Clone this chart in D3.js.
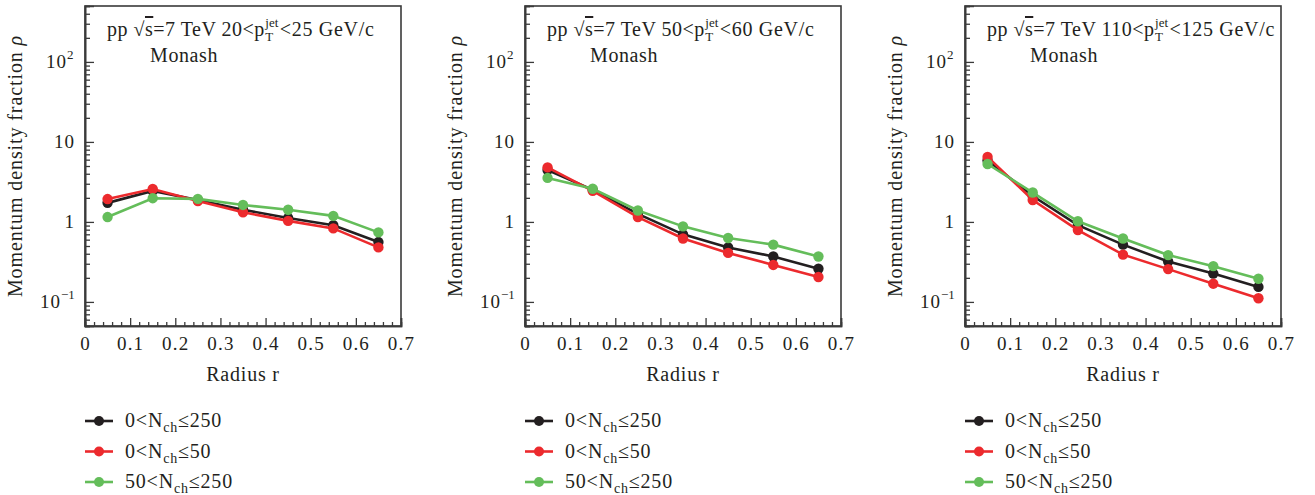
<!DOCTYPE html>
<html>
<head>
<meta charset="utf-8">
<script src="https://cdn.jsdelivr.net/npm/d3@7"></script>
<style>
  body { margin: 0; background: #fff; }
  svg { font-family: "Liberation Serif", "DejaVu Serif", serif; }
</style>
</head>
<body>
<div id="chart"></div>
<script>
// radius bins (bin centres)
const radius = [0.05, 0.15, 0.25, 0.35, 0.45, 0.55, 0.65];

// pT bins, one per panel
const ptBins = [["20", "25"], ["50", "60"], ["110", "125"]];

// multiplicity classes
const seriesNames = ["0<N≤250", "0<N≤50", "50<N≤250"];
const seriesLo = ["0", "0", "50"];
const seriesHi = ["250", "50", "250"];
const seriesColors = ["#231f20", "#ec2a2d", "#64bd5a"];

// momentum density fraction, panel 1 (20-25 GeV/c)
const p1_all = [1.73, 2.44, 1.88, 1.42, 1.12, 0.91, 0.56];
const p1_low = [1.93, 2.58, 1.82, 1.32, 1.03, 0.83, 0.48];
const p1_high = [1.15, 1.98, 1.94, 1.63, 1.42, 1.19, 0.74];

// panel 2 (50-60 GeV/c)
const p2_all = [4.45, 2.52, 1.26, 0.70, 0.48, 0.37, 0.26];
const p2_low = [4.8, 2.45, 1.15, 0.62, 0.41, 0.29, 0.205];
const p2_high = [3.55, 2.6, 1.39, 0.88, 0.63, 0.52, 0.37];

// panel 3 (110-125 GeV/c)
const p3_all = [5.85, 2.11, 0.91, 0.52, 0.32, 0.226, 0.154];
const p3_low = [6.5, 1.88, 0.79, 0.39, 0.257, 0.169, 0.111];
const p3_high = [5.3, 2.33, 1.02, 0.62, 0.385, 0.28, 0.195];

const panelData = [[p1_all, p1_low, p1_high], [p2_all, p2_low, p2_high], [p3_all, p3_low, p3_high]];

const xTicks = [0, 0.1, 0.2, 0.3, 0.4, 0.5, 0.6, 0.7];
const yTicks = [0.1, 1, 10, 100];

const width = 1315, height = 495;
const plotW = 316, plotH = 320;
const plotTop = 6;
const panelLeft = [85, 525, 965];
const ink = "#231f20";

const svg = d3.select("#chart").append("svg")
  .attr("width", width).attr("height", height);

const x = d3.scaleLinear().domain([0, 0.7]).range([0, plotW]);
const y = d3.scaleLog().domain([0.05, 500]).range([plotH, 0]);

// minor ticks on the log axis: 2..9 of every decade inside the domain
const yMinor = [];
[0.01, 0.1, 1, 10, 100].forEach(d => {
  for (let k = 2; k <= 9; k++) {
    const v = d * k;
    if (v >= 0.05 && v <= 500) yMinor.push(v);
  }
});
const xMinor = d3.range(0, 36).map(i => i * 0.02).filter(v => Math.abs(v * 10 - Math.round(v * 10)) > 1e-6);

const supMap = {"-1": "−1", "2": "2"};

function yLabel(d) {
  const e = Math.round(Math.log10(d));
  if (e === 0) return ["1", null];
  if (e === 1) return ["10", null];
  return ["10", supMap[String(e)]];
}

panelData.forEach((rows, pi) => {
  const g = svg.append("g").attr("transform", `translate(${panelLeft[pi]},${plotTop})`);

  // frame
  g.append("rect")
    .attr("width", plotW).attr("height", plotH)
    .attr("fill", "none").attr("stroke", "#3a3a3a").attr("stroke-width", 1.6);

  // x axis, ticks pointing inward
  const xAxis = g.append("g").attr("transform", `translate(0,${plotH})`)
    .call(d3.axisBottom(x).tickValues(xTicks).tickSize(-8).tickPadding(11)
      .tickFormat(d => d === 0 ? "0" : d3.format(".1f")(d)));
  g.append("g").attr("transform", `translate(0,${plotH})`)
    .call(d3.axisBottom(x).tickValues(xMinor).tickSize(-4).tickFormat(""));

  // y axis
  g.append("g")
    .call(d3.axisLeft(y).tickValues(yTicks).tickSize(-9).tickPadding(9).tickFormat(""));
  g.append("g")
    .call(d3.axisLeft(y).tickValues(yMinor).tickSize(-5).tickFormat(""));

  g.selectAll(".domain").attr("stroke", "#3a3a3a").attr("stroke-width", 1.6);
  g.selectAll(".tick line").attr("stroke", "#3a3a3a").attr("stroke-width", 1.3);

  xAxis.selectAll("text").attr("font-size", 19).attr("fill", ink)
    .attr("letter-spacing", 1.2)
    .attr("font-family", "Liberation Serif, serif");

  // y tick labels with exponents
  yTicks.forEach(d => {
    const [base, sup] = yLabel(d);
    const off = sup ? (sup.length > 1 ? 14 : 8) : 0;
    g.append("text")
      .attr("x", -10 - off)
      .attr("y", y(d) + 6)
      .attr("text-anchor", "end")
      .attr("font-size", 19).attr("letter-spacing", 1).attr("fill", ink)
      .text(base);
    if (sup) {
      g.append("text")
        .attr("x", -10 - off)
        .attr("y", y(d) - 3)
        .attr("font-size", 13).attr("fill", ink)
        .text(sup);
    }
  });

  // axis titles
  g.append("text")
    .attr("x", plotW / 2).attr("y", plotH + 55)
    .attr("text-anchor", "middle").attr("font-size", 20).attr("letter-spacing", 0.8)
    .attr("fill", ink)
    .text("Radius r");

  const yt = g.append("text")
    .attr("transform", `translate(${-63},${plotH / 2}) rotate(-90)`)
    .attr("text-anchor", "middle").attr("font-size", 20).attr("letter-spacing", 0.9)
    .attr("fill", ink);
  yt.append("tspan").text("Momentum density fraction ");
  yt.append("tspan").attr("font-style", "italic").text("ρ");

  // title: pp √s=7 TeV lo<p_T^jet<hi GeV/c
  const tx = 22, ty = 30;
  const t1 = g.append("text").attr("x", tx).attr("y", ty)
    .attr("font-size", 20).attr("letter-spacing", 0.5).attr("fill", ink);
  t1.append("tspan").text("pp √");
  t1.append("tspan").style("text-decoration", "overline").text("s");
  t1.append("tspan").text(`=7 TeV ${ptBins[pi][0]}<p`);
  const w1 = t1.node().getComputedTextLength();
  g.append("text").attr("x", tx + w1 + 0.5).attr("y", ty - 9)
    .attr("font-size", 13).attr("fill", ink).text("jet");
  g.append("text").attr("x", tx + w1 + 0.5).attr("y", ty + 5)
    .attr("font-size", 13).attr("fill", ink).text("T");
  g.append("text").attr("x", tx + w1 + 15).attr("y", ty)
    .attr("font-size", 20).attr("letter-spacing", 0.7).attr("fill", ink)
    .text(`<${ptBins[pi][1]} GeV/c`);

  g.append("text").attr("x", 65).attr("y", 56)
    .attr("font-size", 20).attr("letter-spacing", 0.6).attr("fill", ink).text("Monash");

  // series lines + markers
  const line = d3.line().x((d, i) => x(radius[i])).y(d => y(d));
  rows.forEach((vals, si) => {
    g.append("path").datum(vals)
      .attr("d", line).attr("fill", "none")
      .attr("stroke", seriesColors[si]).attr("stroke-width", 2.6);
    g.selectAll(null).data(vals).enter().append("circle")
      .attr("cx", (d, i) => x(radius[i])).attr("cy", d => y(d))
      .attr("r", 5.2).attr("fill", seriesColors[si]);
  });

  // legend
  const lg = g.append("g").attr("transform", `translate(0,${plotH + 95})`);
  seriesNames.forEach((nm, si) => {
    const row = lg.append("g").attr("transform", `translate(0,${si * 30.5})`);
    row.append("line").attr("x1", 0).attr("x2", 28).attr("y1", 0).attr("y2", 0)
      .attr("stroke", seriesColors[si]).attr("stroke-width", 2.6);
    row.append("circle").attr("cx", 14).attr("cy", 0).attr("r", 5).attr("fill", seriesColors[si]);
    const lt = row.append("text").attr("x", 40).attr("y", 6)
      .attr("font-size", 20).attr("letter-spacing", 0.8).attr("fill", ink);
    lt.append("tspan").text(`${seriesLo[si]}<N`);
    lt.append("tspan").attr("font-size", 14).attr("dy", 5).text("ch");
    lt.append("tspan").attr("dy", -5).text(`≤${seriesHi[si]}`);
  });
});
</script>
</body>
</html>
